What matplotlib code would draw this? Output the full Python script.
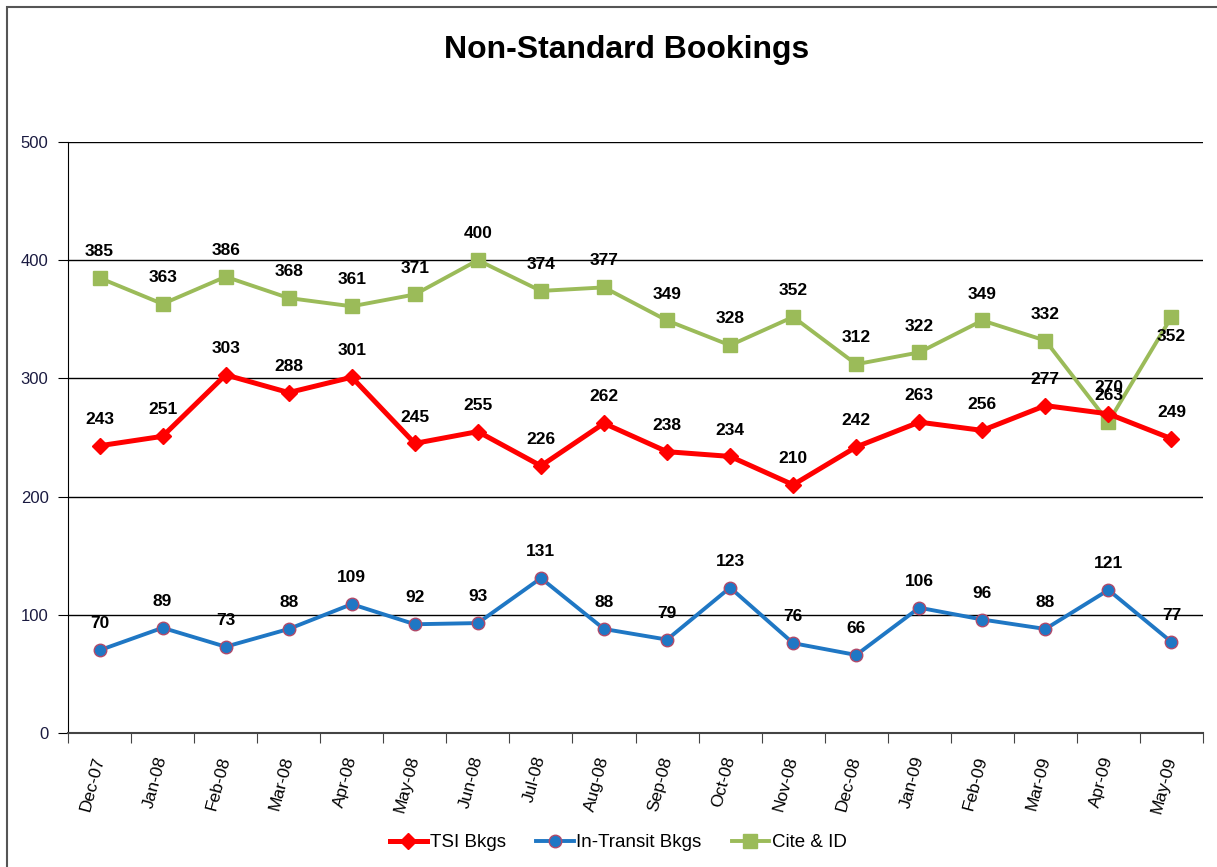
import numpy as np
import matplotlib.pyplot as plt
from matplotlib.patches import Rectangle

plt.rcParams['font.family'] = ['Liberation Sans', 'DejaVu Sans']

months = ['Dec-07', 'Jan-08', 'Feb-08', 'Mar-08', 'Apr-08', 'May-08', 'Jun-08', 'Jul-08', 'Aug-08',
          'Sep-08', 'Oct-08', 'Nov-08', 'Dec-08', 'Jan-09', 'Feb-09', 'Mar-09', 'Apr-09', 'May-09']
tsi = [243, 251, 303, 288, 301, 245, 255, 226, 262, 238, 234, 210, 242, 263, 256, 277, 270, 249]
transit = [70, 89, 73, 88, 109, 92, 93, 131, 88, 79, 123, 76, 66, 106, 96, 88, 121, 77]
cite = [385, 363, 386, 368, 361, 371, 400, 374, 377, 349, 328, 352, 312, 322, 349, 332, 263, 352]

fig = plt.figure(figsize=(12.17, 8.67), dpi=100)
# chart-area border (right and bottom edges fall outside the picture)
fig.patches.append(Rectangle((7 / 1217, -0.1), 1.2, (867 - 7) / 867 + 0.1, transform=fig.transFigure,
                             fill=False, edgecolor='#555555', linewidth=1.5))
ax = fig.add_axes([68 / 1217, 134 / 867, 1135 / 1217, 591 / 867])

x = np.arange(len(months))
ax.plot(x, tsi, color='#FF0000', lw=3.6, marker='D', ms=8.5, label='TSI Bkgs', zorder=4)
ax.plot(x, transit, color='#1F77C4', lw=2.8, marker='o', ms=9, mfc='#1F77C4', mec='#B04A6A',
        mew=1, label='In-Transit Bkgs', zorder=3)
ax.plot(x, cite, color='#9BBB59', lw=2.8, marker='s', ms=10, label='Cite & ID', zorder=3)

for series in (tsi, transit, cite):
    for i, v in enumerate(series):
        dy = 19
        if series is cite and i == len(cite) - 1:
            dy = -14
        ax.annotate(str(v), (i, v), xytext=(0, dy), textcoords='offset points',
                    ha='center', va='center', fontsize=12.5, fontweight='bold', zorder=6)

ax.set_xlim(-0.5, len(months) - 0.5)
ax.set_ylim(0, 500)
ax.set_yticks(range(0, 501, 100))
ax.yaxis.grid(True, color='black', lw=1)
ax.set_axisbelow(True)
ax.set_xticks(np.arange(-0.5, len(months), 1))
ax.set_xticklabels([])
ax.set_xticks(x, minor=True)
ax.set_xticklabels(months, minor=True, rotation=75, ha='right', va='center',
                   rotation_mode='anchor', fontsize=12.5)
ax.tick_params(axis='x', which='minor', length=0, pad=17)
ax.tick_params(axis='x', which='major', length=7, direction='out', color='#444444')
ax.tick_params(axis='y', length=7, direction='out', labelsize=12, pad=7, labelcolor='#1a1a40')
for s in ('top', 'right'):
    ax.spines[s].set_visible(False)
ax.spines['left'].set_color('black')
ax.spines['bottom'].set_color('#444444')
ax.spines['bottom'].set_linewidth(1.5)

fig.text(0.515, 0.942, 'Non-Standard Bookings', ha='center', va='center', fontsize=23, fontweight='bold')
fig.legend(loc='center', bbox_to_anchor=(0.508, 0.028), ncol=3, frameon=False, fontsize=13.5,
           handlelength=2.0, columnspacing=1.6, handletextpad=0.15)

fig.savefig('out.png', dpi=100)
